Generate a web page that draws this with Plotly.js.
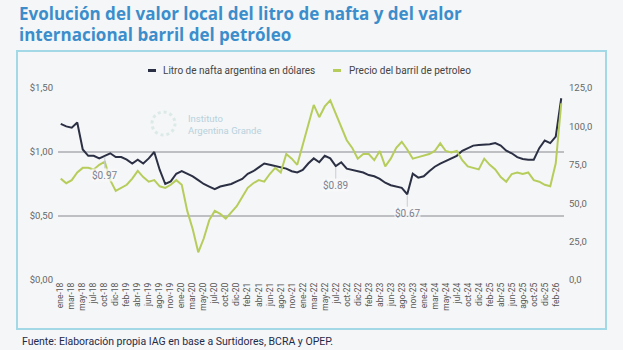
<!DOCTYPE html>
<html>
<head>
<meta charset="utf-8">
<script src="https://cdn.plot.ly/plotly-3.0.1.min.js"></script>
<style>
html,body{margin:0;padding:0;background:#f5f6f7;}
#chart{width:623px;height:350px;}
</style>
</head>
<body>
<div id="chart"></div>
<script>
// Monthly categories (some months absent in source series)
const categories = [
  'ene-18','feb-18','mar-18','abr-18','may-18','jun-18','jul-18','ago-18','oct-18','nov-18','dic-18',
  'ene-19','feb-19','mar-19','abr-19','may-19','jun-19','jul-19','ago-19','sep-19','nov-19','dic-19',
  'ene-20','feb-20','mar-20','abr-20','may-20','jun-20','jul-20','ago-20','oct-20','nov-20','dic-20',
  'ene-21','feb-21','mar-21','abr-21','may-21','jun-21','jul-21','ago-21','sep-21','nov-21','dic-21',
  'ene-22','feb-22','mar-22','abr-22','may-22','jun-22','jul-22','ago-22','oct-22','nov-22','dic-22',
  'ene-23','feb-23','mar-23','abr-23','may-23','jun-23','jul-23','ago-23','sep-23','nov-23','dic-23',
  'ene-24','feb-24','mar-24','abr-24','may-24','jun-24','jul-24','ago-24','oct-24','nov-24','dic-24',
  'ene-25','feb-25','mar-25','abr-25','may-25','jun-25','jul-25','ago-25','sep-25','oct-25','nov-25','dic-25',
  'ene-26','feb-26','mar-26'
];

const tickLabels = [
  'ene-18','mar-18','may-18','jul-18','oct-18','dic-18','feb-19','abr-19','jun-19','ago-19','nov-19',
  'ene-20','mar-20','may-20','jul-20','oct-20','dic-20','feb-21','abr-21','jun-21','ago-21','nov-21',
  'ene-22','mar-22','may-22','jul-22','oct-22','dic-22','feb-23','abr-23','jun-23','ago-23','nov-23',
  'ene-24','mar-24','may-24','jul-24','oct-24','dic-24','feb-25','abr-25','jun-25','ago-25','oct-25',
  'dic-25','feb-26'
];

// Litro de nafta argentina en dólares (USD)
const naftaUSD = [
  1.22,1.20,1.19,1.23,1.02,0.97,0.97,0.95,0.97,0.99,0.96,
  0.96,0.94,0.91,0.94,0.91,0.95,1.00,0.86,0.75,0.77,0.83,
  0.85,0.83,0.81,0.78,0.75,0.73,0.71,0.73,0.74,0.75,0.77,
  0.79,0.83,0.85,0.88,0.91,0.90,0.89,0.88,0.87,0.85,0.84,
  0.86,0.91,0.95,0.92,0.97,0.95,0.89,0.92,0.87,0.86,0.85,
  0.84,0.82,0.81,0.79,0.76,0.74,0.73,0.72,0.67,0.83,0.80,
  0.81,0.85,0.885,0.91,0.93,0.95,0.97,1.01,1.03,1.05,1.055,
  1.055,1.06,1.07,1.05,1.01,0.99,0.96,0.945,0.94,0.94,1.03,1.09,
  1.07,1.12,1.42
];

// Precio del barril de petroleo (USD)
const barrilPrecio = [
  66,63,65,70,73,73,72,75,77,65,58,
  60,62,66,71,67,64,65,61,60,62,65,
  62,45,33,18,27,39,45,43,40,44,48,
  54,60,63,65,64,69,73,70,82,79,75,
  88,101,114,106,113,117,108,100,91,86,79,
  82,82,78,84,74,79,86,90,85,79,80,
  81,82,84,89,84,83,84,78,74,73,72,
  79,75,72,67,64,69,70,69,70,65,64,62,
  61,76,115
];

const seriesNames = ['Litro de nafta argentina en dólares', 'Precio del barril de petroleo'];
const pointLabels = [
  {cat: 'oct-18', text: '$0.97'},
  {cat: 'jul-22', text: '$0.89'},
  {cat: 'sep-23', text: '$0.67'}
];
const sourceText = 'Fuente: Elaboración propia IAG en base a Surtidores, BCRA y OPEP.';
const titleLines = ['Evolución del valor local del litro de nafta y del valor', 'internacional barril del petróleo'];

const navy = '#2c3044';
const green = '#b6cd5c';

const traces = [
  {x: categories, y: naftaUSD, type: 'scatter', mode: 'lines', name: seriesNames[0],
   line: {color: navy, width: 2}, yaxis: 'y', hoverinfo: 'skip'},
  {x: categories, y: barrilPrecio, type: 'scatter', mode: 'lines', name: seriesNames[1],
   line: {color: green, width: 2}, yaxis: 'y2', hoverinfo: 'skip'}
];

// pixel -> paper helpers (plot area 58..564 x 88..280)
const L = 58, R = 59, T = 88, B = 70, W = 623, H = 350;
const pw = W - L - R, ph = H - T - B;
const px = v => (v - L) / pw;
const py = v => (H - B - v) / ph;

const annotations = [];
pointLabels.forEach(p => {
  const idx = categories.indexOf(p.cat);
  annotations.push({
    x: p.cat, y: naftaUSD[idx], xref: 'x', yref: 'y',
    text: p.text, showarrow: true, arrowhead: 0, arrowwidth: 1, arrowcolor: '#c9ccd2',
    ax: 0, ay: 19, standoff: 1,
    font: {family: 'Roboto, Arial, sans-serif', size: 10, color: '#7b8191'},
    bgcolor: 'rgba(250,250,250,0.7)', borderpad: 0
  });
});

// title lines
const titleFont = {family: 'Open Sans, sans-serif', size: 17, color: '#3b8ecb', weight: 'bold'};
annotations.push({xref: 'paper', yref: 'paper', x: px(17), y: py(13), xanchor: 'left', yanchor: 'middle',
  text: titleLines[0], showarrow: false, font: titleFont});
annotations.push({xref: 'paper', yref: 'paper', x: px(17), y: py(34), xanchor: 'left', yanchor: 'middle',
  text: titleLines[1], showarrow: false, font: titleFont});
// legend texts
annotations.push({xref: 'paper', yref: 'paper', x: px(161), y: py(70.5), xanchor: 'left', yanchor: 'middle',
  text: seriesNames[0], showarrow: false, font: {family: 'Roboto, Arial, sans-serif', size: 10, color: '#444'}});
annotations.push({xref: 'paper', yref: 'paper', x: px(347), y: py(70.5), xanchor: 'left', yanchor: 'middle',
  text: seriesNames[1], showarrow: false, font: {family: 'Roboto, Arial, sans-serif', size: 10, color: '#444'}});
// watermark
annotations.push({xref: 'paper', yref: 'paper', x: px(186), y: py(124), xanchor: 'left', yanchor: 'middle', align: 'left',
  text: 'Instituto<br>Argentina Grande', showarrow: false, font: {family: 'Roboto, Arial, sans-serif', size: 9.5, color: '#b7d2de'}});
// source
annotations.push({xref: 'paper', yref: 'paper', x: px(20), y: py(341), xanchor: 'left', yanchor: 'middle',
  text: sourceText, showarrow: false, font: {family: 'Roboto, Arial, sans-serif', size: 10.5, color: '#1e2b4a'}});

const shapes = [
  // frame box
  {type: 'rect', xref: 'paper', yref: 'paper', x0: px(17), x1: px(606), y0: py(329), y1: py(51),
   line: {color: '#a3d9e6', width: 2}, fillcolor: 'rgba(0,0,0,0)', layer: 'below'},
  // legend dashes
  {type: 'rect', xref: 'paper', yref: 'paper', x0: px(148), x1: px(156), y0: py(72), y1: py(69),
   line: {width: 0}, fillcolor: navy},
  {type: 'rect', xref: 'paper', yref: 'paper', x0: px(333), x1: px(341), y0: py(72), y1: py(69),
   line: {width: 0}, fillcolor: green},
  // watermark ring
  {type: 'circle', xref: 'paper', yref: 'paper', x0: px(152), x1: px(175), y0: py(135), y1: py(112),
   line: {color: '#dbeae8', width: 3, dash: 'dot'}, fillcolor: 'rgba(0,0,0,0)', layer: 'below'}
];

const layout = {
  width: W, height: H,
  margin: {l: L, r: R, t: T, b: B, pad: 0},
  paper_bgcolor: '#f5f6f7', plot_bgcolor: '#f5f6f7',
  separators: ',.',
  showlegend: false,
  xaxis: {type: 'category', categoryorder: 'array', categoryarray: categories,
          range: [-0.5, categories.length - 0.5], tickvals: tickLabels, ticktext: tickLabels,
          tickangle: -90, showgrid: false, zeroline: false, showline: false, ticks: '',
          tickfont: {family: 'Roboto, Arial, sans-serif', size: 8.5, color: '#555'}, fixedrange: true},
  yaxis: {range: [0, 1.5], dtick: 0.5, tick0: 0, tickprefix: '$', tickformat: '.2f',
          showgrid: true, gridcolor: '#bdbfc3', gridwidth: 1.5, zeroline: false, showline: false, ticks: '',
          ticklabelstandoff: 4,
          tickfont: {family: 'Roboto, Arial, sans-serif', size: 9.5, color: '#666'}},
  yaxis2: {range: [0, 125], dtick: 25, tick0: 0, tickformat: '.1f', overlaying: 'y', side: 'right',
           showgrid: false, zeroline: false, showline: false, ticks: '', ticklabelstandoff: 4,
           tickfont: {family: 'Roboto, Arial, sans-serif', size: 9.5, color: '#666'}},
  annotations: annotations,
  shapes: shapes
};

Plotly.newPlot('chart', traces, layout, {displayModeBar: false, staticPlot: true});
</script>
</body>
</html>
